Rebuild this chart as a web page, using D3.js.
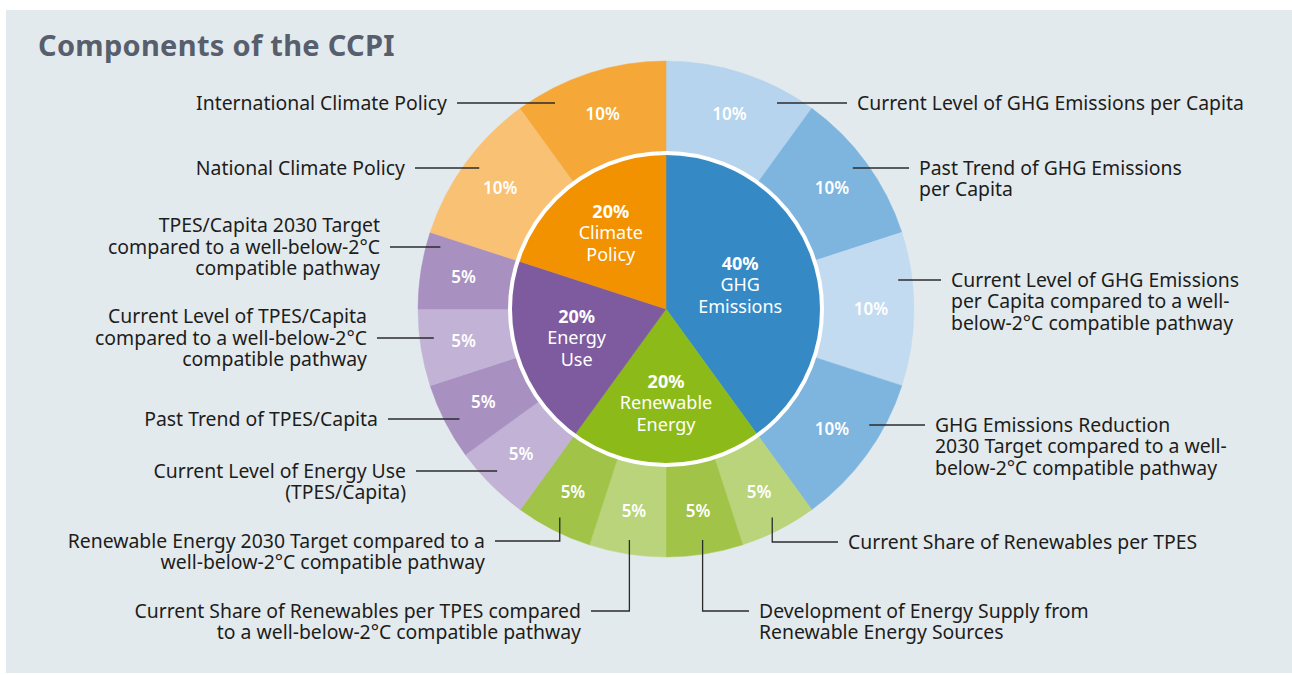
<!DOCTYPE html>
<html>
<head>
<meta charset="utf-8">
<script src="https://cdn.jsdelivr.net/npm/d3@7"></script>
<style>
  body { margin: 0; background: #fff; }
  svg { display: block; font-family: "Noto Sans", "Open Sans", sans-serif; }
</style>
</head>
<body>
<script>
// inner ring: the four categories
const groups = ["GHG\nEmissions", "Renewable\nEnergy", "Energy\nUse", "Climate\nPolicy"];
const groupWeights = [40, 20, 20, 20];

// outer ring: the 14 indicators, clockwise from 12 o'clock
const indicators = [
  "Current Level of GHG Emissions per Capita",
  "Past Trend of GHG Emissions\nper Capita",
  "Current Level of GHG Emissions\nper Capita compared to a well-\nbelow-2°C compatible pathway",
  "GHG Emissions Reduction\n2030 Target compared to a well-\nbelow-2°C compatible pathway",
  "Current Share of Renewables per TPES",
  "Development of Energy Supply from\nRenewable Energy Sources",
  "Current Share of Renewables per TPES compared\nto a well-below-2°C compatible pathway",
  "Renewable Energy 2030 Target compared to a\nwell-below-2°C compatible pathway",
  "Current Level of Energy Use\n(TPES/Capita)",
  "Past Trend of TPES/Capita",
  "Current Level of TPES/Capita\ncompared to a well-below-2°C\ncompatible pathway",
  "TPES/Capita 2030 Target\ncompared to a well-below-2°C\ncompatible pathway",
  "National Climate Policy",
  "International Climate Policy"
];
const indicatorWeights = [10, 10, 10, 10, 5, 5, 5, 5, 5, 5, 5, 5, 10, 10];

// styles
const groupColors = ["#358ac6", "#8cbb19", "#7d5b9e", "#f39200"];
const indicatorColors = ["#b6d4ed", "#7eb5df", "#c3dbf0", "#7eb5df",
                         "#b9d47a", "#a1c347", "#b9d47a", "#a1c347",
                         "#c1b2d6", "#a891c1", "#c1b2d6", "#a891c1",
                         "#f9c173", "#f5a737"];

// label placement (text anchor x, leader row y, which text row the leader points at, elbow leader)
const labelLayout = [
  { side: "right", x: 857, y: 103, row: 0 },
  { side: "right", x: 919, y: 168, row: 0 },
  { side: "right", x: 951, y: 280, row: 0 },
  { side: "right", x: 935, y: 425, row: 0 },
  { side: "right", x: 848, y: 542, row: 0, elbow: true },
  { side: "right", x: 759, y: 611, row: 0, elbow: true },
  { side: "left",  x: 581, y: 611, row: 0, elbow: true },
  { side: "left",  x: 485, y: 541, row: 0, elbow: true },
  { side: "left",  x: 406, y: 471, row: 0 },
  { side: "left",  x: 378, y: 419, row: 0 },
  { side: "left",  x: 367, y: 338, row: 1 },
  { side: "left",  x: 380, y: 247, row: 1 },
  { side: "left",  x: 405, y: 168, row: 0 },
  { side: "left",  x: 447, y: 103, row: 0 }
];

const width = 1292, height = 675;
const cx = 666, cy = 309;
const rInner = 156, rOuter = 248, rLeader = 234;
const lineH = 21.5, gap = 10;

const svg = d3.select("body").append("svg")
    .attr("width", width)
    .attr("height", height);

svg.append("rect")
    .attr("x", 6).attr("y", 10)
    .attr("width", width - 6).attr("height", 663)
    .attr("fill", "#e3eaee");

svg.append("text")
    .attr("x", 38).attr("y", 56)
    .attr("fill", "#575e6c")
    .style("font-size", "29px")
    .style("font-weight", "bold")
    .style("letter-spacing", "0.3px")
    .text("Components of the CCPI");

const g = svg.append("g").attr("transform", `translate(${cx},${cy})`);

const pie = d3.pie().sort(null).value(d => d);

// outer ring
const outerArcs = pie(indicatorWeights);
const outerArc = d3.arc().innerRadius(rInner).outerRadius(rOuter);
const outerLabelArc = d3.arc().innerRadius(162).outerRadius(rOuter);

g.selectAll(".outer")
    .data(outerArcs)
    .enter().append("path")
    .attr("d", outerArc)
    .attr("fill", (d, i) => indicatorColors[i])
    .attr("stroke", (d, i) => indicatorColors[i])
    .attr("stroke-width", 0.5);

g.selectAll(".outer-label")
    .data(outerArcs)
    .enter().append("text")
    .attr("transform", d => `translate(${outerLabelArc.centroid(d)})`)
    .attr("text-anchor", "middle")
    .attr("dy", "0.35em")
    .attr("fill", "#fff")
    .style("font-size", "17px")
    .style("font-weight", "600")
    .text(d => d.data + "%");

// inner pie
const innerArcs = pie(groupWeights);
const innerArc = d3.arc().innerRadius(0).outerRadius(rInner);
// wide slices keep their label nearer the centre
const innerLabelArc = d => d3.arc()
    .innerRadius(d.endAngle - d.startAngle > Math.PI / 2 ? 0 : 32)
    .outerRadius(rInner).centroid(d);

g.selectAll(".inner")
    .data(innerArcs)
    .enter().append("path")
    .attr("d", innerArc)
    .attr("fill", (d, i) => groupColors[i])
    .attr("stroke", (d, i) => groupColors[i])
    .attr("stroke-width", 0.5);

g.append("circle")
    .attr("r", rInner)
    .attr("fill", "none")
    .attr("stroke", "#fff")
    .attr("stroke-width", 4);

innerArcs.forEach((d, i) => {
    const [x, y] = innerLabelArc(d);
    const lines = groups[i].split("\n");
    const t = g.append("text")
        .attr("text-anchor", "middle")
        .attr("fill", "#fff")
        .style("font-size", "18px");
    t.append("tspan")
        .attr("x", x).attr("y", y - lineH)
        .attr("dy", "0.35em")
        .style("font-weight", "bold")
        .text(d.data + "%");
    lines.forEach((l, j) => {
        t.append("tspan")
            .attr("x", x).attr("y", y + j * lineH)
            .attr("dy", "0.35em")
            .text(l);
    });
});

// labels and leader lines
outerArcs.forEach((d, i) => {
    const lay = labelLayout[i];
    const lines = indicators[i].split("\n");
    const dir = lay.side === "right" ? 1 : -1;
    const textX = lay.x;
    const lineX = textX - dir * gap;

    let path;
    if (lay.elbow) {
        const a = (d.startAngle + d.endAngle) / 2;
        const px = cx + rLeader * Math.sin(a);
        const py = cy - rLeader * Math.cos(a);
        path = `M${px},${py}V${lay.y}H${lineX}`;
    } else {
        const dy = lay.y - cy;
        const ex = cx + dir * Math.sqrt(rLeader * rLeader - dy * dy);
        path = `M${ex},${lay.y}H${lineX}`;
    }
    svg.append("path")
        .attr("d", path)
        .attr("fill", "none")
        .attr("stroke", "#2b2b2b")
        .attr("stroke-width", 1.3);

    const t = svg.append("text")
        .attr("text-anchor", lay.side === "right" ? "start" : "end")
        .attr("fill", "#1d1d1b")
        .style("font-size", "19.4px");
    lines.forEach((l, j) => {
        t.append("tspan")
            .attr("x", textX)
            .attr("y", lay.y + (j - lay.row) * lineH)
            .attr("dy", "0.35em")
            .text(l);
    });
});
</script>
</body>
</html>
